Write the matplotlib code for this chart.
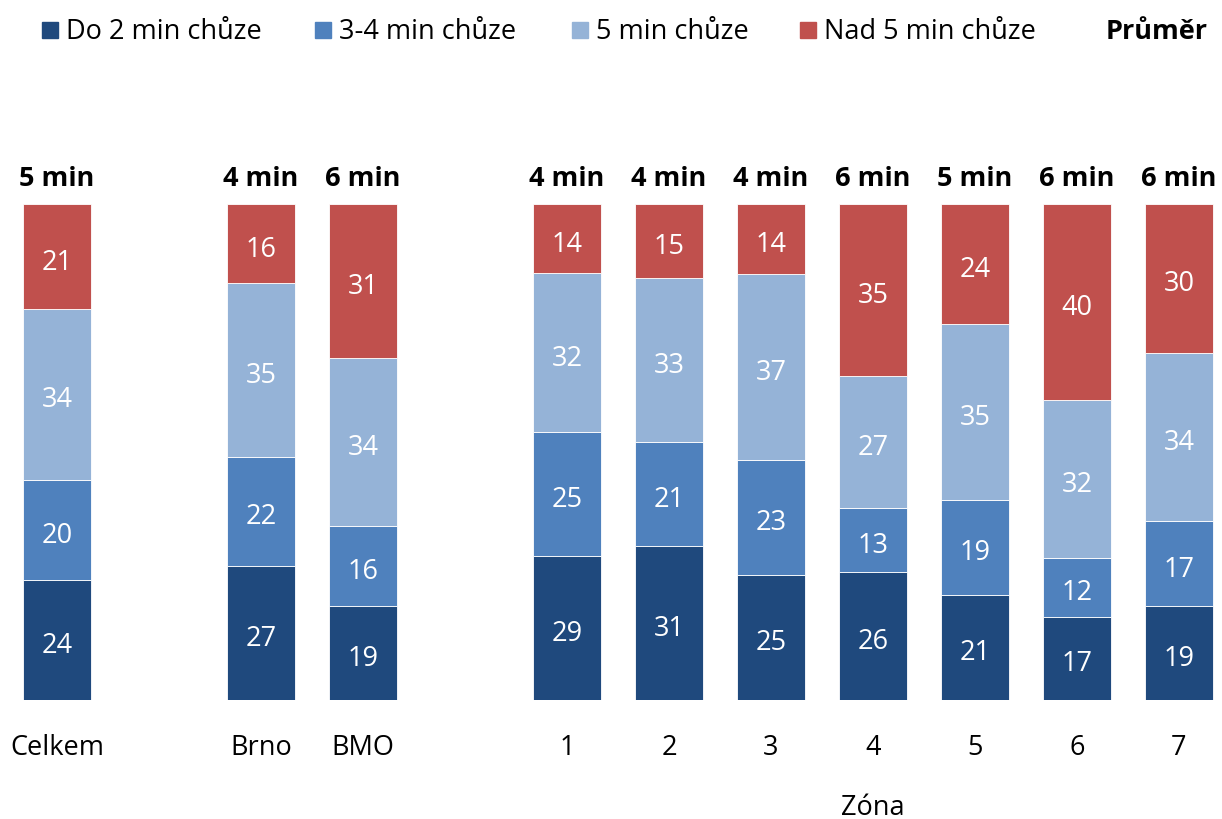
import matplotlib.pyplot as plt
import matplotlib.patches as mpatches
import numpy as np

plt.rcParams['font.family'] = ['Open Sans', 'DejaVu Sans']

categories = ['Celkem', 'Brno', 'BMO', '1', '2', '3', '4', '5', '6', '7']
slots = [0, 2, 3, 5, 6, 7, 8, 9, 10, 11]
series_names = ['Do 2 min chůze', '3-4 min chůze', '5 min chůze', 'Nad 5 min chůze']
do2 = [24, 27, 19, 29, 31, 25, 26, 21, 17, 19]
min34 = [20, 22, 16, 25, 21, 23, 13, 19, 12, 17]
min5 = [34, 35, 34, 32, 33, 37, 27, 35, 32, 34]
nad5 = [21, 16, 31, 14, 15, 14, 35, 24, 40, 30]
averages = ['5 min', '4 min', '6 min', '4 min', '4 min', '4 min', '6 min', '5 min', '6 min', '6 min']
colors = ['#1F497D', '#4F81BD', '#95B3D7', '#C0504D']

W, H = 1222, 820
FS = 19.5
fig = plt.figure(figsize=(W / 100, H / 100), dpi=100)
ax = fig.add_axes([0, 1 - 701 / H, 1, 496 / H])
ax.set_xlim(-57 / 102, (W - 57) / 102)
ax.set_ylim(0, 100)
ax.axis('off')

data = np.array([do2, min34, min5, nad5], dtype=float)
shares = data / data.sum(axis=0) * 100
x = np.array(slots)
bottom = np.zeros(len(categories))
for i in range(4):
    ax.bar(x, shares[i], 0.667, bottom=bottom, color=colors[i],
           edgecolor='white', linewidth=0.6)
    for xi, b, s, v in zip(x, bottom, shares[i], data[i]):
        ax.text(xi, b + s / 2 - 1.0, f'{int(v)}', ha='center', va='center',
                color='white', fontsize=FS)
    bottom += shares[i]

for xi, avg, cat in zip(x, averages, categories):
    ax.text(xi, 105.2, avg, ha='center', va='center', fontsize=FS,
            fontweight='bold')
    ax.text(xi, -9.4, cat, ha='center', va='center', fontsize=FS)
ax.text(8, -21.5, 'Zóna', ha='center', va='center', fontsize=FS)

# legend
leg_x = [42, 315, 572, 800]
for lx, name, c in zip(leg_x, series_names, colors):
    fig.patches.append(mpatches.Rectangle((lx / W, 1 - 39 / H), 16 / W, 16 / H,
                                          transform=fig.transFigure, color=c))
    fig.text((lx + 24) / W, 1 - 32 / H, name, ha='left', va='center', fontsize=FS)
fig.text(1208 / W, 1 - 32 / H, 'Průměr', ha='right', va='center',
         fontsize=FS, fontweight='bold')

fig.savefig('out.png', dpi=100)
